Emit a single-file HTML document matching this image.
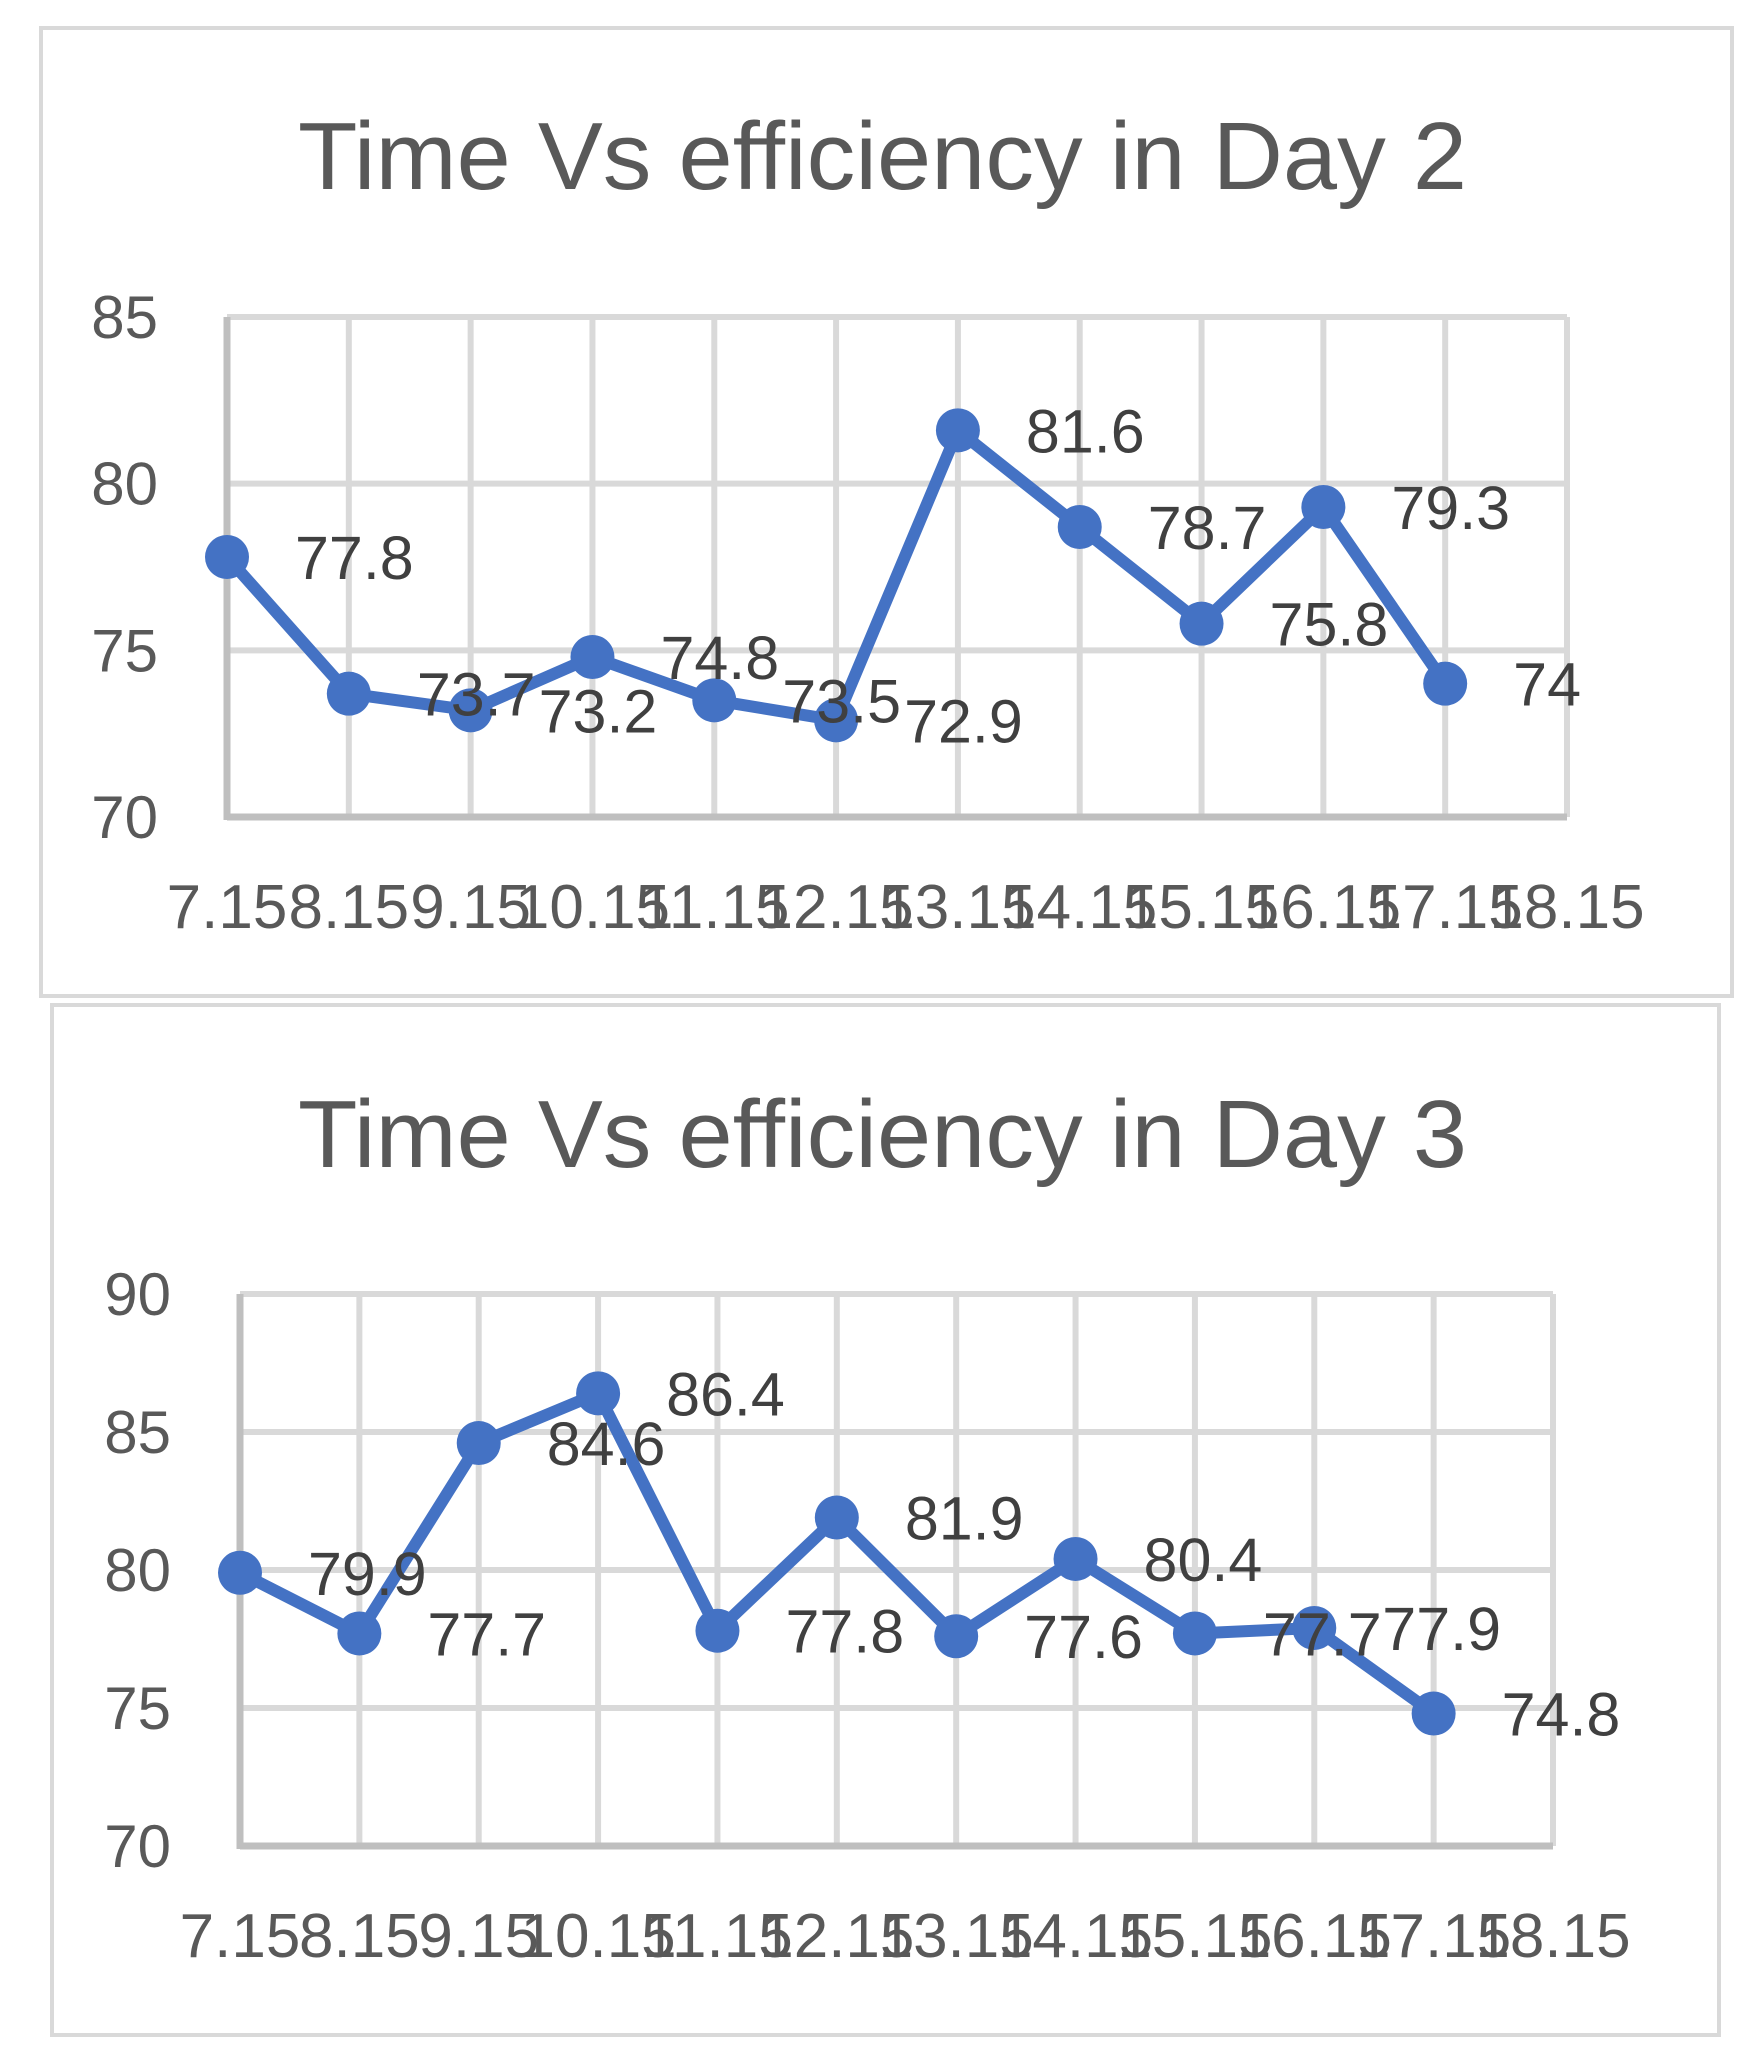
<!DOCTYPE html>
<html><head><meta charset="utf-8"><style>
html,body{margin:0;padding:0;background:#fff;}
svg{display:block;font-family:"Liberation Sans",sans-serif;}
</style></head><body>
<svg id="chart" width="1757" height="2055" viewBox="0 0 1757 2055" xmlns="http://www.w3.org/2000/svg"></svg>
<script>
const categories = ["7.15","8.15","9.15","10.15","11.15","12.15","13.15","14.15","15.15","16.15","17.15","18.15"];
const day2Values = [77.8,73.7,73.2,74.8,73.5,72.9,81.6,78.7,75.8,79.3,74];
const day3Values = [79.9,77.7,84.6,86.4,77.8,81.9,77.6,80.4,77.7,77.9,74.8];
const day2Ticks = [70,75,80,85];
const day3Ticks = [70,75,80,85,90];

const NS = "http://www.w3.org/2000/svg";
const svg = document.getElementById("chart");
function mk(tag, attrs, parent){
  const e = document.createElementNS(NS, tag);
  for (const k in attrs) e.setAttribute(k, attrs[k]);
  (parent||svg).appendChild(e);
  return e;
}

function drawChart(cfg){
  const g = mk("g", {});
  
  
  const frame = mk("rect", {x:cfg.fx, y:cfg.fy, width:cfg.fw, height:cfg.fh, fill:"#fff", stroke:"#d9d9d9", "stroke-width":4}, g);
  
  
  const title = mk("text", {x:298, y:cfg.titleY, "font-size":96, fill:"#595959", textLength:1169, lengthAdjust:"spacingAndGlyphs"}, g);
  title.textContent = cfg.title;
  
  
  const ticks = cfg.ticks;
  const ymin = ticks[0], ymax = ticks[ticks.length-1];
  const yS = v => cfg.pb - (v - ymin) / (ymax - ymin) * (cfg.pb - cfg.pt);
  const n = categories.length;
  const xS = i => cfg.pl + i * (cfg.pr - cfg.pl) / (n - 1);
  // horizontal gridlines + y labels
  ticks.forEach(t => {
    if (t !== ymin) {
      const gl = mk("line", {x1:cfg.pl, x2:cfg.pr, y1:yS(t), y2:yS(t), stroke:"#d9d9d9", "stroke-width":6}, g);
      
      
    }
    const tl = mk("text", {x:cfg.pl-69, y:yS(t)+21, "font-size":60, fill:"#595959", "text-anchor":"end"}, g);
    tl.textContent = t;
    
    
  });
  // vertical gridlines + x labels
  categories.forEach((c, i) => {
    if (i > 0) {
      const gl = mk("line", {x1:xS(i), x2:xS(i), y1:cfg.pt, y2:cfg.pb, stroke:"#d9d9d9", "stroke-width":6}, g);
      
      
    }
    const xl = mk("text", {x:xS(i), y:cfg.pb+111, "font-size":62, fill:"#595959", "text-anchor":"middle"}, g);
    xl.textContent = c;
    
    
  });
  const ax = mk("line", {x1:cfg.pl, x2:cfg.pl, y1:cfg.pt, y2:cfg.pb+3, stroke:"#bfbfbf", "stroke-width":7}, g);
  
  
  const bx = mk("line", {x1:cfg.pl, x2:cfg.pr, y1:cfg.pb, y2:cfg.pb, stroke:"#bfbfbf", "stroke-width":7}, g);
  
  
  const vals = cfg.values;
  const pts = vals.map((v, i) => xS(i) + "," + yS(v)).join(" ");
  const line = mk("polyline", {points:pts, fill:"none", stroke:"#4472c4", "stroke-width":12, "stroke-linejoin":"round"}, g);
  
  
  vals.forEach((v, i) => {
    const c = mk("circle", {cx:xS(i), cy:yS(v), r:22, fill:"#4472c4"}, g);
    
    
  });
  vals.forEach((v, i) => {
    const t = mk("text", {x:xS(i)+68, y:yS(v)+22, "font-size":61, fill:"#404040"}, g);
    t.textContent = v;
    
    
  });
}

drawChart({name:"day2-chart", title:"Time Vs efficiency in Day 2", fx:41, fy:28, fw:1691, fh:968, titleY:189,
  pl:227, pr:1567, pt:317, pb:817, ticks:day2Ticks, values:day2Values});
drawChart({name:"day3-chart", title:"Time Vs efficiency in Day 3", fx:52, fy:1005, fw:1667, fh:1030, titleY:1167,
  pl:240, pr:1553, pt:1294, pb:1846, ticks:day3Ticks, values:day3Values});
</script>
</body></html>
